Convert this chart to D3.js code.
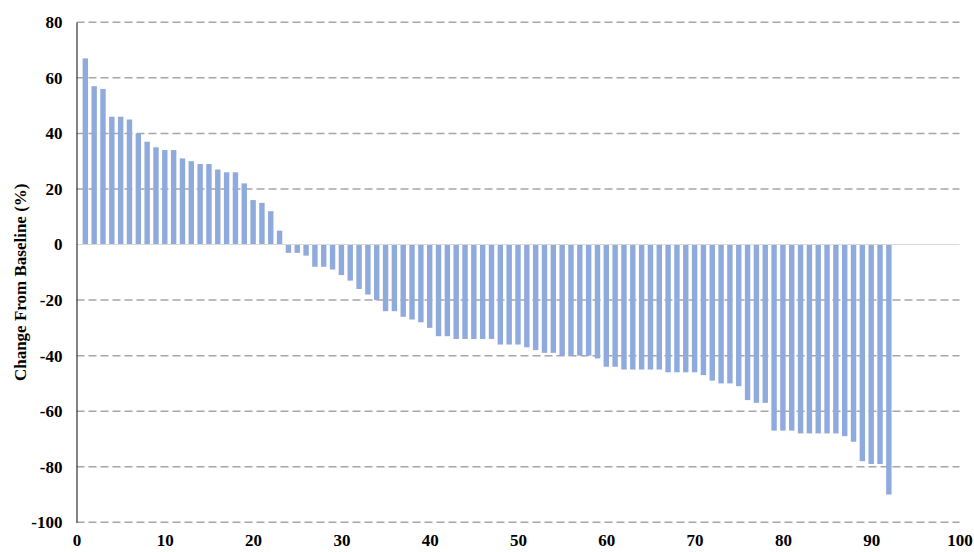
<!DOCTYPE html>
<html>
<head>
<meta charset="utf-8">
<script src="https://cdnjs.cloudflare.com/ajax/libs/d3/7.8.5/d3.min.js"></script>
<style>
  html, body { margin: 0; padding: 0; background: #fff; }
  svg { display: block; }
  text { font-family: "Liberation Serif", "Times New Roman", serif; font-weight: bold; fill: #000; }
</style>
</head>
<body>
<svg id="chart" width="974" height="552"></svg>
<script>
// Patient index (x) and change from baseline (%)
const patients = d3.range(1, 93);
const changes = [
  67, 57, 56, 46, 46, 45, 40, 37, 35, 34,
  34, 31, 30, 29, 29, 27, 26, 26, 22, 16,
  15, 12, 5, -3, -3, -4, -8, -8, -9, -11,
  -13, -16, -18, -20, -24, -24, -26, -27, -28, -30,
  -33, -33, -34, -34, -34, -34, -34, -36, -36, -36,
  -37, -38, -39, -39, -40, -40, -40, -40, -41, -44,
  -44, -45, -45, -45, -45, -45, -46, -46, -46, -46,
  -47, -49, -50, -50, -51, -56, -57, -57, -67, -67,
  -67, -68, -68, -68, -68, -68, -69, -71, -78, -79,
  -79, -90
];
const xTicks = [0, 10, 20, 30, 40, 50, 60, 70, 80, 90, 100];
const yTicks = [80, 60, 40, 20, 0, -20, -40, -60, -80, -100];
const yTitle = "Change From Baseline (%)";

const data = patients.map((p, i) => ({ x: p, v: changes[i] }));

const svg = d3.select("#chart");
const L = 76.5, R = 959.5, T = 22.3, B = 522.3;

const x = d3.scaleLinear().domain([0, 100]).range([L, R]);
const y = d3.scaleLinear().domain([-100, 80]).range([B, T]);

// gridlines (dashed), except zero
svg.append("g")
  .selectAll("line")
  .data(yTicks.filter(t => t !== 0))
  .join("line")
  .attr("x1", L).attr("x2", R)
  .attr("y1", d => y(d)).attr("y2", d => y(d))
  .attr("stroke", "#a6a6a6")
  .attr("stroke-width", 1.5)
  .attr("stroke-dasharray", "8,4");

// bars
const bw = 5.4;
svg.append("g")
  .selectAll("rect")
  .data(data)
  .join("rect")
  .attr("x", d => x(d.x) - bw / 2)
  .attr("width", bw)
  .attr("y", d => Math.min(y(d.v), y(0)))
  .attr("height", d => Math.abs(y(d.v) - y(0)))
  .attr("fill", "#8faadc");

// zero line
svg.append("line")
  .attr("x1", L).attr("x2", R)
  .attr("y1", y(0)).attr("y2", y(0))
  .attr("stroke", "#d9d9d9")
  .attr("stroke-width", 1.2);

const fmt = d => String(d);

// y axis
const yAxis = d3.axisLeft(y).tickValues(yTicks).tickFormat(fmt).tickSize(0).tickPadding(14);
const gy = svg.append("g").attr("transform", `translate(${L},0)`).call(yAxis);
gy.select(".domain").attr("stroke", "#404040").attr("stroke-width", 1.3);
gy.selectAll("text").style("font-size", "17px").style("font-family", "Liberation Serif").style("font-weight", "bold");

// x axis labels (no axis line)
const xAxis = d3.axisBottom(x).tickValues(xTicks).tickFormat(fmt).tickSize(0).tickPadding(12);
const gx = svg.append("g").attr("transform", `translate(0,${B})`).call(xAxis);
gx.select(".domain").remove();
gx.selectAll("text").style("font-size", "17px").style("font-family", "Liberation Serif").style("font-weight", "bold");

// y title
svg.append("text")
  .attr("transform", `translate(26,${(T + B) / 2 + 10}) rotate(-90)`)
  .attr("text-anchor", "middle")
  .style("font-size", "17px")
  .text(yTitle);
</script>
</body>
</html>
